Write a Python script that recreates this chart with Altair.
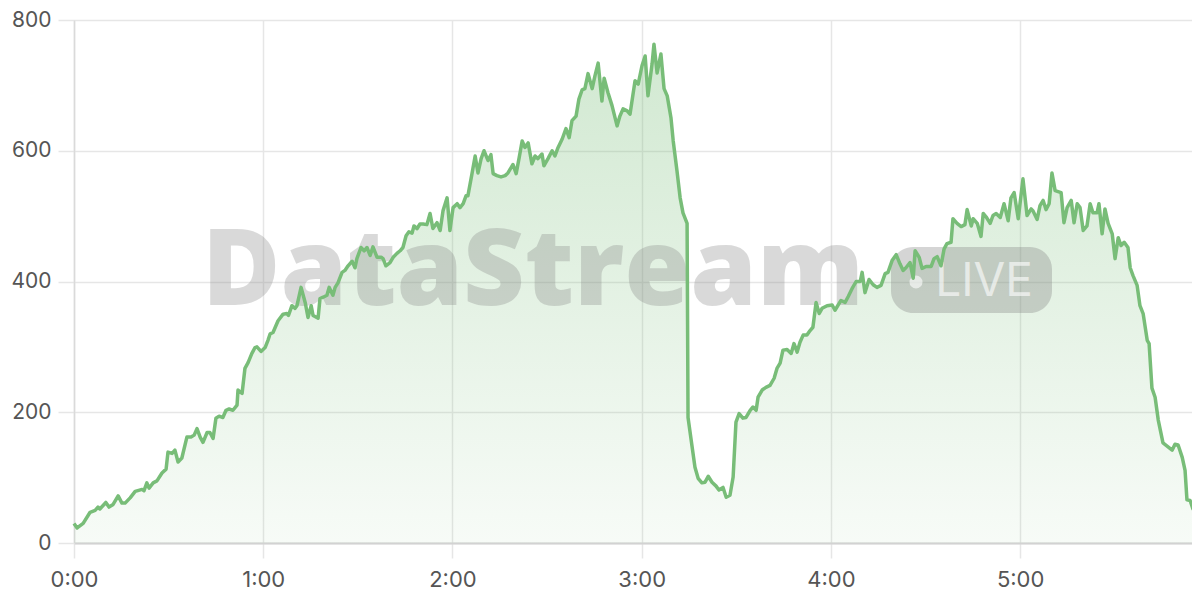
import altair as alt
import pandas as pd

# time in minutes since start
minutes = [
    0.0, 1.0, 2.9, 5.1, 6.7, 7.6, 8.2, 10.1, 11.1, 12.4, 14.0, 15.2, 16.2, 17.8, 19.4, 21.6, 22.2, 23.1, 23.8, 25.1,
    26.3, 27.9, 29.2, 29.8, 31.1, 32.0, 33.0, 34.2, 35.8, 37.1, 38.1, 39.0, 40.0, 40.9, 42.2, 43.1, 44.1, 45.0, 46.0, 47.2,
    48.2, 49.2, 50.4, 51.7, 52.0, 53.3, 54.2, 55.2, 56.4, 57.4, 58.0, 59.3, 60.6, 61.5, 62.2, 63.1, 64.7, 66.3, 67.5, 68.0,
    69.1, 70.1, 70.7, 72.0, 73.3, 74.2, 75.2, 75.8, 77.4, 78.0, 79.0, 80.2, 80.9, 82.1, 82.8, 83.7, 85.0, 85.9, 86.9, 88.2,
    89.1, 89.7, 91.0, 92.0, 92.9, 93.9, 94.8, 96.1, 97.4, 98.0, 98.9, 100.2, 101.2, 102.4, 103.4, 104.3, 105.3, 106.2, 107.2, 107.8,
    108.8, 109.7, 110.7, 111.9, 112.9, 113.8, 115.1, 116.1, 117.0, 118.3, 119.2, 120.2, 121.5, 122.4, 123.4, 124.3, 124.9, 126.2, 127.2, 128.1,
    129.1, 130.0, 131.3, 132.2, 132.9, 134.1, 135.4, 136.7, 137.6, 139.2, 140.2, 141.1, 142.1, 143.0, 144.0, 145.2, 146.2, 147.1, 148.4, 149.0,
    150.3, 151.6, 152.5, 153.5, 154.8, 156.0, 157.0, 157.9, 159.2, 160.1, 161.1, 162.0, 163.0, 164.3, 165.2, 166.2, 167.4, 168.1, 169.3, 170.6,
    172.2, 173.1, 174.1, 175.4, 176.3, 177.9, 178.9, 180.1, 181.1, 182.0, 183.3, 183.9, 184.9, 186.1, 187.1, 188.1, 189.3, 190.0, 191.2, 192.2,
    193.1, 194.4, 194.7, 196.0, 196.9, 197.9, 199.1, 200.1, 201.1, 202.3, 203.6, 204.5, 205.8, 206.8, 208.0, 209.0, 209.9, 210.9, 212.1, 213.1,
    214.4, 215.3, 216.3, 216.9, 218.2, 219.4, 220.7, 222.0, 222.9, 223.9, 224.8, 226.1, 227.4, 228.3, 229.3, 230.2, 231.2, 232.4, 233.4, 234.3,
    235.3, 236.3, 237.2, 238.8, 240.4, 241.3, 243.2, 244.5, 245.5, 246.7, 248.0, 249.3, 249.9, 250.8, 252.1, 253.4, 254.6, 255.9, 257.2, 258.1,
    259.4, 260.7, 261.9, 262.9, 263.8, 265.1, 266.1, 266.7, 268.0, 268.9, 270.2, 271.8, 272.7, 273.7, 274.9, 275.9, 276.8, 278.1, 278.7, 280.0,
    281.3, 282.5, 283.2, 284.5, 285.1, 286.4, 287.6, 288.3, 289.2, 290.5, 291.4, 292.4, 293.7, 294.9, 296.2, 297.1, 298.1, 299.4, 300.9, 302.2,
    303.5, 304.1, 305.4, 306.3, 307.3, 308.2, 309.2, 310.1, 311.1, 313.0, 313.9, 314.9, 316.2, 317.1, 318.1, 319.0, 320.0, 321.2, 322.2, 323.1,
    324.4, 325.0, 326.0, 326.9, 327.9, 329.2, 330.1, 331.1, 332.0, 333.0, 334.2, 334.9, 335.8, 337.1, 338.0, 339.0, 340.3, 340.9, 341.8, 342.8,
    343.8, 345.3, 346.9, 348.2, 349.1, 350.1, 351.4, 352.3, 352.9, 353.9, 354.8, 356.1,
]

values = [
    30, 23, 30, 47, 50, 55, 52, 62, 55, 59, 72, 61, 61, 69, 79, 82, 80, 92, 84, 92,
    95, 107, 113, 139, 137, 142, 124, 130, 162, 162, 165, 175, 162, 154, 169, 169, 160, 191, 194, 192,
    203, 205, 203, 211, 234, 229, 267, 276, 290, 299, 300, 293, 299, 310, 320, 322, 340, 350, 351, 348,
    363, 359, 363, 391, 368, 345, 363, 348, 344, 374, 376, 379, 391, 379, 391, 398, 414, 417, 424, 431,
    421, 435, 452, 447, 452, 440, 453, 437, 437, 435, 424, 429, 437, 443, 447, 452, 470, 476, 474, 485,
    481, 488, 488, 487, 504, 481, 490, 478, 508, 528, 478, 513, 519, 513, 519, 531, 531, 565, 592, 566,
    588, 600, 585, 594, 565, 562, 560, 562, 566, 579, 565, 588, 615, 605, 612, 580, 592, 588, 595, 577,
    588, 600, 592, 605, 618, 634, 620, 646, 653, 679, 693, 695, 718, 695, 715, 734, 676, 711, 689, 669,
    638, 653, 664, 661, 656, 707, 702, 730, 745, 684, 733, 763, 719, 748, 695, 684, 650, 615, 569, 528,
    505, 489, 192, 147, 116, 99, 92, 93, 102, 93, 87, 81, 85, 70, 73, 101, 185, 198, 191, 192,
    203, 208, 203, 223, 234, 238, 241, 252, 267, 275, 295, 296, 290, 305, 292, 307, 318, 318, 325, 330,
    368, 351, 359, 363, 364, 356, 371, 368, 377, 389, 400, 400, 414, 383, 403, 395, 391, 394, 412, 414,
    432, 441, 427, 417, 421, 429, 405, 447, 437, 420, 423, 423, 435, 438, 424, 450, 458, 460, 496, 489,
    484, 487, 510, 485, 496, 489, 469, 504, 499, 489, 501, 504, 498, 519, 493, 528, 536, 496, 557, 501,
    511, 508, 495, 516, 524, 510, 519, 566, 539, 536, 490, 513, 524, 490, 519, 513, 478, 485, 519, 505,
    505, 519, 473, 511, 489, 473, 435, 467, 455, 460, 452, 421, 409, 394, 363, 351, 310, 305, 237, 223,
    188, 153, 147, 142, 151, 150, 131, 111, 66, 65, 52, 50,
]

hour_ticks = [0, 60, 120, 180, 240, 300]
y_ticks = [0, 200, 400, 600, 800]
watermark_text = "DataStream"
badge_text = "LIVE"

df = pd.DataFrame({"t": minutes, "v": values})
one = pd.DataFrame({"k": [0]})

LINE = "#78bd78"
FONT = "Inter"

x_enc = alt.X(
    "t:Q",
    scale=alt.Scale(domain=[0, 354.5], nice=False, zero=False),
    axis=alt.Axis(values=hour_ticks, labelExpr="floor(datum.value / 60) + ':00'",
                  title=None, labelFlush=False),
)
y_enc = alt.Y(
    "v:Q",
    scale=alt.Scale(domain=[0, 800], nice=False),
    axis=alt.Axis(values=y_ticks, title=None),
)

area = alt.Chart(df).mark_area(
    color=alt.Gradient(
        gradient="linear",
        stops=[
            alt.GradientStop(color="rgba(120,189,120,0.06)", offset=0),
            alt.GradientStop(color="rgba(120,189,120,0.34)", offset=1),
        ],
        x1=1, x2=1, y1=1, y2=0,
    ),
    interpolate="linear",
).encode(x=x_enc, y=y_enc)

wm = alt.Chart(one).mark_text(
    text=watermark_text, font="Open Sans", fontWeight=800, fontSize=107,
    align="center", baseline="alphabetic", color="#808080", opacity=0.29,
).encode(x=alt.value(459), y=alt.value(285))

badge = alt.Chart(one).mark_rect(
    cornerRadius=22, color="#808080", opacity=0.33,
).encode(x=alt.value(817), x2=alt.value(978), y=alt.value(227), y2=alt.value(293))

dot = alt.Chart(one).mark_point(
    shape="circle", filled=True, size=170, color="white", opacity=0.6,
).encode(x=alt.value(842), y=alt.value(262))

live = alt.Chart(one).mark_text(
    text=badge_text, font=FONT, fontWeight="normal", fontSize=46,
    align="center", baseline="alphabetic", color="white", opacity=0.6,
).encode(x=alt.value(910), y=alt.value(276))

line = alt.Chart(df).mark_line(
    color=LINE, strokeWidth=3.5, interpolate="linear", strokeJoin="round",
).encode(x=x_enc, y=y_enc)

chart = (
    alt.layer(area, wm, badge, dot, live, line)
    .properties(
        width=1118, height=523,
        autosize=alt.AutoSizeParams(type="none"),
        padding={"left": 66, "top": 12, "right": 0, "bottom": 50},
        background="white",
    )
    .configure_view(stroke=None)
    .configure_axis(
        gridColor="#e6e6e6", gridWidth=1.5,
        tickColor="#e6e6e6", tickWidth=1.5,
        labelFont=FONT, labelFontSize=21, labelColor="#555555",
        domainColor="#d2d2d2", domainWidth=2,
    )
    .configure_axisX(tickSize=15, labelPadding=11, labelFontSize=22)
    .configure_axisY(tickSize=16, labelPadding=7, domainColor="#dadada", domainWidth=1.5)
)

chart.save("out.html", embed_options={"renderer": "svg", "actions": False})
